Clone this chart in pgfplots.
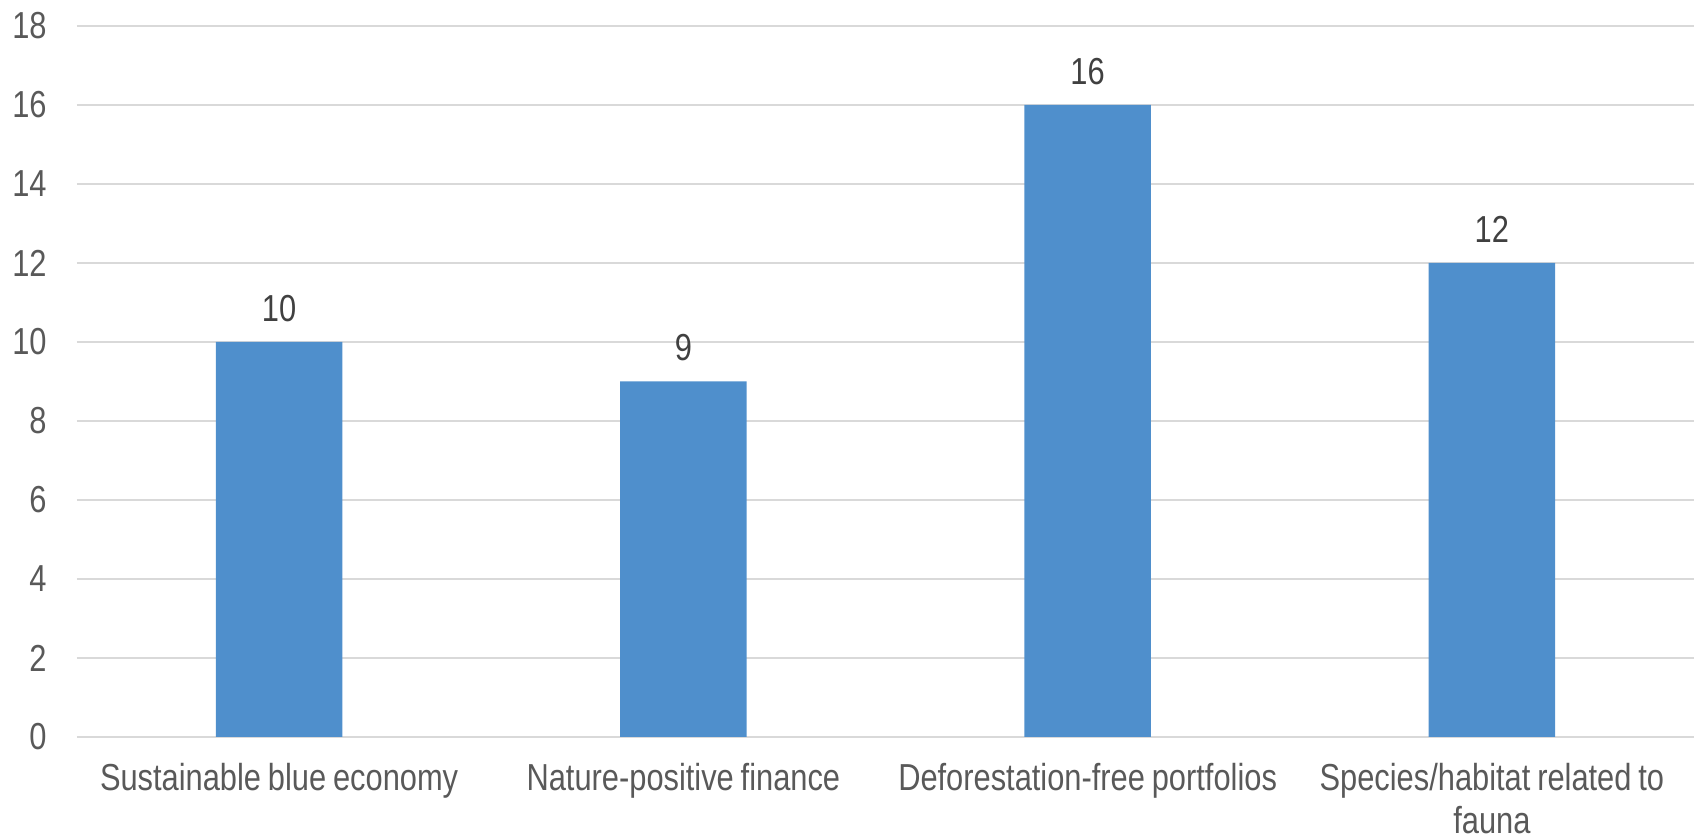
\documentclass[border=0pt]{standalone}
\usepackage{pgfplots}
\pgfplotsset{compat=1.18}
\usepackage{fontspec}
\setmainfont[FakeStretch=0.82, WordSpace=0.8]{Liberation Sans}
\definecolor{barblue}{HTML}{4F8FCC}
\definecolor{gridgray}{HTML}{D9D9D9}
\definecolor{ticktext}{HTML}{595959}
\definecolor{valtext}{HTML}{404040}
\newcommand{\chartfont}{\fontsize{18.8}{21.5}\selectfont}
\begin{document}
\begin{tikzpicture}
\begin{axis}[
  at={(0,0)}, anchor=south west,
  scale only axis, width=808.5pt, height=355.5pt,
  xmin=-0.5, xmax=3.5, ymin=0, ymax=18,
  ytick={0,2,...,18},
  xtick={0,1,2,3},
  xticklabels={Sustainable blue economy, Nature-positive finance, Deforestation-free portfolios, {Species/habitat related to\\fauna}},
  axis lines*=left,
  axis line style={draw=none},
  major tick length=0pt,
  ymajorgrids,
  grid style={gridgray, line width=0.75pt},
  /pgf/number format/assume math mode=true,
  yticklabel style={font=\chartfont, text=ticktext, anchor=east, inner sep=0pt, xshift=-15pt},
  xticklabel style={font=\chartfont, text=ticktext, anchor=north, inner sep=0pt, yshift=-13pt, align=center},
  ybar, bar width=63.2pt,
  nodes near coords,
  nodes near coords style={font=\chartfont, text=valtext, inner sep=0pt, anchor=south, yshift=10pt},
]
\addplot[fill=barblue, draw=none] coordinates {(0,10) (1,9) (2,16) (3,12)};
\end{axis}
\pgfresetboundingbox
\path[use as bounding box] (-38.5pt,-51pt) rectangle (808.5pt,368.5pt);
\end{tikzpicture}
\end{document}
